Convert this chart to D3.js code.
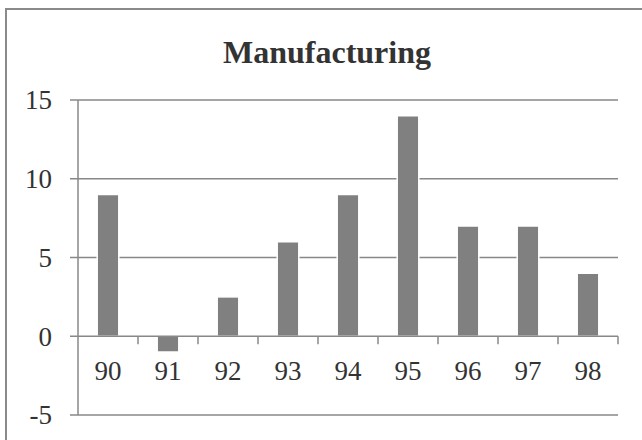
<!DOCTYPE html>
<html>
<head>
<meta charset="utf-8">
<script src="https://cdn.jsdelivr.net/npm/d3@7"></script>
<style>
  body { margin: 0; background: #fff; }
  text { font-family: "Liberation Serif", "DejaVu Serif", serif; fill: #333; }
</style>
</head>
<body>
<div id="graph"></div>
<script>
// data
const years = ["90", "91", "92", "93", "94", "95", "96", "97", "98"];
const values = [9, -1, 2.5, 6, 9, 14, 7, 7, 4];
const yTicks = [-5, 0, 5, 10, 15];

const width = 642;
const height = 440;
const plot = { left: 78, right: 618, top: 100, bottom: 415 };

const svg = d3.select("#graph")
  .append("svg")
  .attr("width", width)
  .attr("height", height);

// chart frame (runs off the right and bottom edge)
svg.append("rect")
  .attr("x", 6)
  .attr("y", 9)
  .attr("width", width + 10)
  .attr("height", height + 10)
  .attr("fill", "white")
  .attr("stroke", "#8a8a8a")
  .attr("stroke-width", 2);

svg.append("text")
  .attr("x", 327)
  .attr("y", 63)
  .attr("text-anchor", "middle")
  .attr("font-size", "32px")
  .attr("font-weight", "bold")
  .text("Manufacturing");

const xscale = d3.scaleBand()
  .domain(years)
  .range([plot.left, plot.right]);

const yscale = d3.scaleLinear()
  .domain([-5, 15])
  .range([plot.bottom, plot.top]);

// horizontal gridlines, with the 8px tick sticking out left
svg.append("g")
  .selectAll("line")
  .data(yTicks.filter(d => d !== 0))
  .enter()
  .append("line")
  .attr("x1", plot.left - 8)
  .attr("x2", plot.right)
  .attr("y1", d => yscale(d))
  .attr("y2", d => yscale(d))
  .attr("stroke", "#888")
  .attr("stroke-width", 1.5);

// y axis labels
svg.append("g")
  .selectAll("text")
  .data(yTicks)
  .enter()
  .append("text")
  .attr("x", 52)
  .attr("y", d => yscale(d))
  .attr("dy", "0.35em")
  .attr("text-anchor", "end")
  .attr("font-size", "27px")
  .text(d => d);

var barwidth = xscale.bandwidth() * 0.36;

svg.append("g")
  .selectAll("rect")
  .data(values)
  .enter()
  .append("rect")
  .attr("x", (d, i) => xscale(years[i]) + xscale.bandwidth() / 2 - barwidth / 2)
  .attr("y", d => yscale(Math.max(d, 0)))
  .attr("width", barwidth)
  .attr("height", d => Math.abs(yscale(d) - yscale(0)))
  .attr("fill", "#808080")
  .attr("stroke", "white")
  .attr("stroke-width", 1.5);

// y axis line
svg.append("line")
  .attr("x1", plot.left)
  .attr("x2", plot.left)
  .attr("y1", plot.top)
  .attr("y2", plot.bottom)
  .attr("stroke", "#888")
  .attr("stroke-width", 1.5);

// x axis at zero with ticks between categories
svg.append("line")
  .attr("x1", plot.left - 8)
  .attr("x2", plot.right)
  .attr("y1", yscale(0))
  .attr("y2", yscale(0))
  .attr("stroke", "#888")
  .attr("stroke-width", 1.5);

svg.append("g")
  .selectAll("line")
  .data(years)
  .enter()
  .append("line")
  .attr("x1", d => xscale(d) + xscale.step())
  .attr("x2", d => xscale(d) + xscale.step())
  .attr("y1", yscale(0))
  .attr("y2", yscale(0) + 8)
  .attr("stroke", "#888")
  .attr("stroke-width", 1.5);

svg.append("g")
  .selectAll("text")
  .data(years)
  .enter()
  .append("text")
  .attr("x", d => xscale(d) + xscale.bandwidth() / 2)
  .attr("y", 380)
  .attr("text-anchor", "middle")
  .attr("font-size", "27px")
  .text(d => d);
</script>
</body>
</html>
